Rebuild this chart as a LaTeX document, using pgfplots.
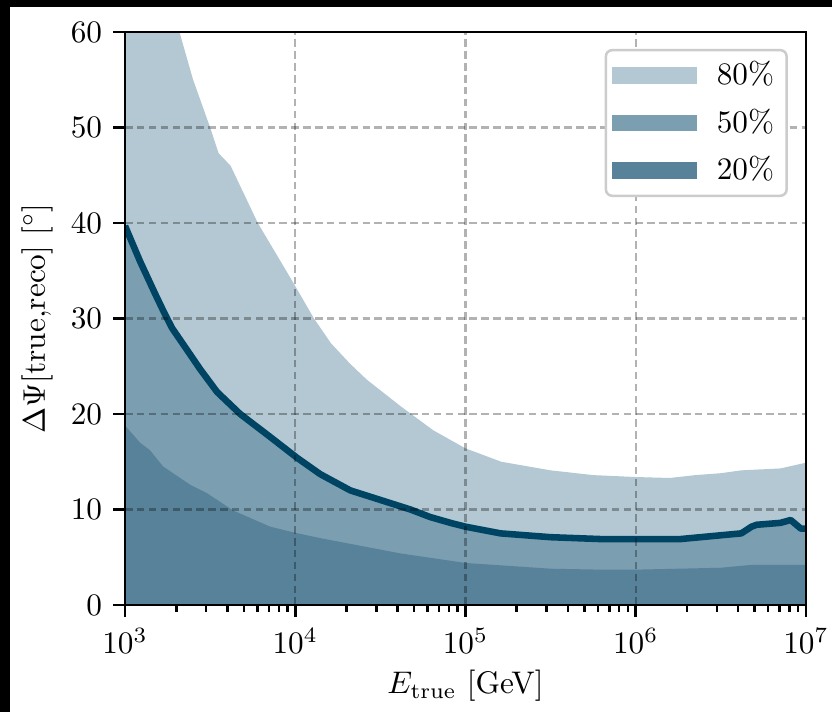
\documentclass[border=0pt]{standalone}
\usepackage{pgfplots}
\usepackage{pgfplotstable}
\pgfplotsset{compat=1.18}
\definecolor{cLight}{RGB}{179,200,210}
\definecolor{cMed}{RGB}{123,158,177}
\definecolor{cDark}{RGB}{87,130,153}
\definecolor{cLine}{RGB}{0,68,100}

\pgfplotstableread{
E q
1e3 75
1.585e3 66
2.089e3 60
2.512e3 55
3.162e3 50
3.548e3 47.3
4.169e3 46
6.026e3 40
9.772e3 33.7
1.288e4 30
1.622e4 27.4
2.089e4 25.3
2.630e4 23.6
4.169e4 20.8
6.457e4 18.3
1e5 16.4
1.622e5 15.0
3.162e5 14.1
5.623e5 13.6
1e6 13.4
1.585e6 13.3
2.239e6 13.6
3.162e6 13.8
4.169e6 14.1
7.079e6 14.3
1e7 14.9
}\qeighty

\pgfplotstableread{
E q
1e3 39.7
1.225e3 36.0
1.502e3 32.6
1.700e3 30.6
1.890e3 29.0
2.316e3 26.7
2.762e3 24.7
3.477e3 22.3
4.748e3 20.0
7.126e3 17.6
1.027e4 15.4
1.403e4 13.7
2.106e4 12.0
3.162e4 11.0
4.748e4 10.0
6.226e4 9.2
8.163e4 8.6
1e5 8.2
1.607e5 7.5
3.162e5 7.1
6.310e5 6.9
1e6 6.9
1.820e6 6.9
3.162e6 7.3
4.169e6 7.5
4.786e6 8.2
5.129e6 8.4
7.079e6 8.6
8.128e6 8.9
9.333e6 8.0
1e7 8.0
}\qfifty

\pgfplotstableread{
E q
1e3 18.8
1.225e3 17.0
1.403e3 16.2
1.675e3 14.5
2.410e3 12.6
3.034e3 11.7
4.315e3 9.9
7.129e3 8.2
9.772e3 7.6
1.403e4 7.0
2.108e4 6.4
4.150e4 5.4
1e5 4.4
3.162e5 3.8
6.310e5 3.7
1e6 3.7
3.162e6 3.9
4.786e6 4.2
1e7 4.2
}\qtwenty

\begin{document}
\begin{tikzpicture}
\fill[black] (-40pt,-34.24pt) rectangle (226.24pt,193.6pt);
\fill[white] (-36.8pt,-34.24pt) rectangle (226.24pt,191.36pt);
\useasboundingbox (-40pt,-34.24pt) rectangle (226.24pt,193.6pt);
\begin{axis}[
  at={(0pt,0pt)}, anchor=south west,
  scale only axis, width=217.92pt, height=183.36pt,
  xmode=log, xmin=1e3, xmax=1e7, ymin=0, ymax=60,
  ytick={0,10,...,60},
  xtick={1e3,1e4,1e5,1e6,1e7},
  axis line style={line width=0.9pt},
  tick align=outside, tick pos=left,
  major tick length=3.8pt, minor tick length=2.2pt,
  every tick/.style={black, line width=0.8pt},
  grid=major,
  major grid style={dash pattern=on 2.4pt off 1.4pt, black, opacity=0.3, line width=0.7pt},
  axis on top,
  xlabel={$E_{\mathrm{true}}$ [GeV]},
  ylabel={$\Delta\Psi[\mathrm{true{,}reco}]$ $[^\circ]$},
  xlabel style={at={(axis description cs:0.5,-0.1413)}, anchor=center},
  ylabel style={at={(axis description cs:-0.1292,0.5)}, anchor=center},
  legend cell align=left,
  legend image code/.code={\fill[#1, sharp corners] (0pt,-2.7pt) rectangle (27pt,2.7pt);},
  legend style={at={(rel axis cs:1,1)}, anchor=north east, xshift=-5.8pt, yshift=-5.4pt,
    draw=black!20, line width=0.8pt, rounded corners=2pt, fill=white,
    inner xsep=2pt, inner ysep=1.6pt, row sep=2.2pt,
    /tikz/every odd column/.append style={column sep=4.5pt}},
]
\addplot[fill=cLight, draw=none] table[x=E,y=q] {\qeighty} \closedcycle;
\addlegendentry{80\%}
\addplot[fill=cMed, draw=none] table[x=E,y=q] {\qfifty} \closedcycle;
\addlegendentry{50\%}
\addplot[fill=cDark, draw=none] table[x=E,y=q] {\qtwenty} \closedcycle;
\addlegendentry{20\%}
\addplot[cLine, line width=2.1pt, line join=round, forget plot] table[x=E,y=q] {\qfifty};
\end{axis}
\end{tikzpicture}
\end{document}
